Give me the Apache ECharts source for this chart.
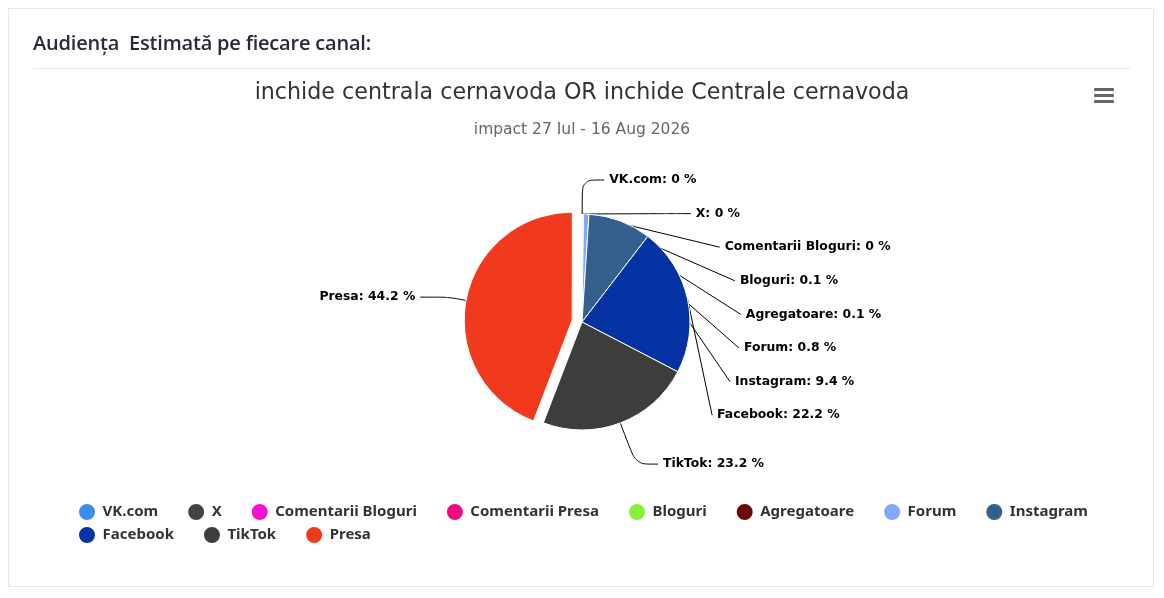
<!DOCTYPE html>
<html>
<head>
<meta charset="utf-8">
<script src="https://cdn.jsdelivr.net/npm/echarts@6/dist/echarts.min.js"></script>
<style>
  html, body { margin:0; padding:0; background:#fff; width:1164px; height:598px; overflow:hidden; }
  #panel { position:absolute; left:8px; top:8px; width:1146px; height:579px; border:1px solid #dcebef; box-sizing:border-box; }
  #hdr { position:absolute; left:33px; top:29px; font-family:"Open Sans", sans-serif; font-size:20px; font-weight:600; color:#252b38; white-space:pre; letter-spacing:-0.2px; }
  #rule { position:absolute; left:33px; top:68px; width:1097px; height:1px; background:#e3edf0; }
  #chart { position:absolute; left:0; top:0; width:1164px; height:598px; }
  #menu { position:absolute; left:1094px; top:88px; width:20px; }
  #menu div { height:3px; background:#666; margin-bottom:3px; border-radius:1px; }
</style>
</head>
<body>
<div id="panel"></div>
<div id="chart"></div>
<div id="hdr">Audiența  Estimată pe fiecare canal:</div>
<div id="rule"></div>
<div id="menu"><div></div><div></div><div></div></div>
<script>
var categories = ["VK.com","X","Comentarii Bloguri","Comentarii Presa","Bloguri","Agregatoare","Forum","Instagram","Facebook","TikTok","Presa"];
var values = [0, 0, 0, null, 0.1, 0.1, 0.8, 9.4, 22.2, 23.2, 44.2];
var colors = ["#3a8ef0","#434348","#f20fd6","#f5097f","#84f03c","#6b0a0a","#80a8fb","#33608d","#0533a3","#3e3d3b","#f0391d"];
var legendRow1 = ["VK.com","X","Comentarii Bloguri","Comentarii Presa","Bloguri","Agregatoare","Forum","Instagram"];
var legendRow2 = ["Facebook","TikTok","Presa"];
var titleText = "inchide centrala cernavoda OR inchide Centrale cernavoda";
var subtitleText = "impact 27 Iul - 16 Aug 2026";

var data = categories.map(function(c, i){
  var d = { name: c, value: values[i] === null ? '-' : values[i], itemStyle: { color: colors[i] } };
  if (c === "Presa") { d.selected = true; d.labelLine = { length: 18, length2: 28 }; }
  if (c === "TikTok") { d.labelLine = { length: 44, length2: 22 }; }
  return d;
});

var legendText = { fontFamily: 'Noto Sans', fontSize: 15, fontWeight: 'bold', color: '#333' };
var chart = echarts.init(document.getElementById('chart'));
chart.setOption({
  animation: false,
  title: {
    text: titleText,
    subtext: subtitleText,
    left: 'center',
    top: 77,
    itemGap: 18,
    textStyle: { fontFamily: 'DejaVu Sans', fontSize: 22.2, fontWeight: 'normal', color: '#333' },
    subtextStyle: { fontFamily: 'DejaVu Sans', fontSize: 15.5, color: '#666' }
  },
  legend: [{
    left: 72, top: 497,
    icon: 'circle', itemWidth: 21, itemHeight: 18, itemGap: 28, symbolKeepAspect: true,
    textStyle: legendText,
    data: legendRow1
  }, {
    left: 72, top: 520,
    icon: 'circle', itemWidth: 21, itemHeight: 18, itemGap: 28, symbolKeepAspect: true,
    textStyle: legendText,
    data: legendRow2
  }],
  series: [{
    type: 'pie',
    center: [582, 322],
    radius: 108,
    startAngle: 89.9,
    clockwise: true,
    selectedMode: 'single',
    selectedOffset: 10,
    minShowLabelAngle: 0,
    avoidLabelOverlap: true,
    itemStyle: { borderColor: '#fff', borderWidth: 1 },
    label: {
      show: true,
      formatter: function(p){ return p.name + ': ' + (Math.round(p.value * 10) / 10) + ' %'; },
      fontFamily: 'DejaVu Sans', fontSize: 12.4, fontWeight: 'bold', color: '#000',
      lineHeight: 31.6
    },
    labelLine: { show: true, length: 34, length2: 22, smooth: 0.3, lineStyle: { color: '#000', width: 1 } },
    emphasis: { disabled: true },
    data: data
  }]
});
</script>
</body>
</html>
